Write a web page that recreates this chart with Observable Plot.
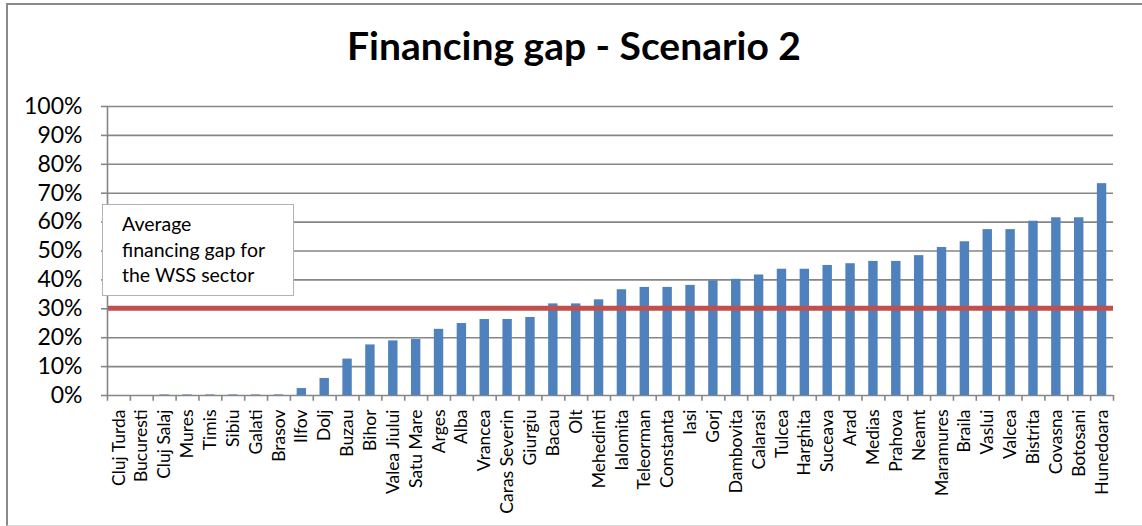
<!DOCTYPE html>
<html>
<head>
<meta charset="utf-8">
<script src="https://cdn.jsdelivr.net/npm/d3@7"></script>
<script src="https://cdn.jsdelivr.net/npm/@observablehq/plot@0.6"></script>
<style>
  html, body { margin: 0; padding: 0; background: #fff; overflow: hidden; }
  #wrap { position: relative; width: 1142px; height: 526px; font-family: Lato, "Open Sans", sans-serif; }
  #border { position: absolute; left: 6px; top: 3px; width: 1160px; height: 520px; border-left: 2px solid #8a8a8a; border-top: 2px solid #8a8a8a; border-bottom: 1px solid #d9d9d9; }
  #title { position: absolute; left: 0; width: 1148px; top: 20px; text-align: center; font-weight: bold; font-size: 39px; line-height: 50px; color: #000; }
  #chart { position: absolute; left: 0; top: 0; }
  #legend { position: absolute; left: 102px; top: 204px; width: 192px; height: 92px; border: 1.5px solid #b3b3b3; background: #fff; box-sizing: border-box; padding: 6px 0 0 19px; font-size: 19.5px; line-height: 25.5px; color: #000; }
</style>
</head>
<body>
<div id="wrap">
  <div id="border"></div>
  <div id="chart"></div>
  <div id="title">Financing gap - Scenario 2</div>
  <div id="legend">Average<br>financing gap for<br>the WSS sector</div>
</div>
<script>
const regions = ["Cluj Turda","Bucuresti","Cluj Salaj","Mures","Timis","Sibiu","Galati","Brasov","Ilfov","Dolj","Buzau","Bihor","Valea Jiului","Satu Mare","Arges","Alba","Vrancea","Caras Severin","Giurgiu","Bacau","Olt","Mehedinti","Ialomita","Teleorman","Constanta","Iasi","Gorj","Dambovita","Calarasi","Tulcea","Harghita","Suceava","Arad","Medias","Prahova","Neamt","Maramures","Braila","Vaslui","Valcea","Bistrita","Covasna","Botosani","Hunedoara"];
const gapPercent = [0,0,0.2,0.2,0.2,0.2,0.2,0.2,2.4,5.9,12.6,17.5,18.9,19.4,22.9,24.9,26.3,26.3,27.0,31.7,31.7,33.1,36.6,37.4,37.4,38.1,39.7,40.2,41.7,43.7,43.7,45.0,45.6,46.4,46.4,48.4,51.2,53.2,57.4,57.4,60.3,61.5,61.5,73.3];
const averageGapPercent = [30.2];
const yTicks = [0,0.1,0.2,0.3,0.4,0.5,0.6,0.7,0.8,0.9,1.0];

const data = regions.map((name, i) => ({name, value: gapPercent[i] / 100}));
const W = 1142, H = 526;
const mL = 107, mR = 29, mT = 106, mB = 131;
const bw = (W - mL - mR) / regions.length;
const barW = 9.4;
const gray = "#868686";

const chart = Plot.plot({
  width: W,
  height: H,
  marginLeft: mL,
  marginRight: mR,
  marginTop: mT,
  marginBottom: mB,
  style: {fontFamily: "Lato, 'Open Sans', sans-serif", color: "#000", background: "transparent", overflow: "visible"},
  x: {domain: regions, padding: 0, label: null},
  y: {domain: [0, 1], label: null},
  marks: [
    Plot.gridY(yTicks, {stroke: gray, strokeOpacity: 1, strokeWidth: 1.6}),
    Plot.barY(data, {x: "name", y: "value", fill: "#4F81BD", insetLeft: (bw - barW) / 2, insetRight: (bw - barW) / 2}),
    Plot.ruleY(averageGapPercent.map(v => v / 100), {stroke: "#C0504D", strokeWidth: 5}),
    Plot.ruleX([regions[0]], {dx: -bw / 2, y1: 0, y2: 1, stroke: gray, strokeWidth: 1.6}),
    Plot.ruleX(regions, {dx: -bw / 2, y1: 0, y2: -0.02, stroke: gray, strokeWidth: 1.6}),
    Plot.ruleX([regions[regions.length - 1]], {dx: bw / 2, y1: 0, y2: -0.02, stroke: gray, strokeWidth: 1.6}),
    Plot.axisY(yTicks, {tickFormat: d3.format(".0%"), tickSize: 6, tickPadding: 19, stroke: gray, strokeWidth: 1.6, fontSize: 23, label: null}),
    Plot.axisX({tickSize: 0, tickPadding: 14, tickRotate: -90, fontSize: 17.5, label: null})
  ]
});
document.getElementById("chart").appendChild(chart);
</script>
</body>
</html>
